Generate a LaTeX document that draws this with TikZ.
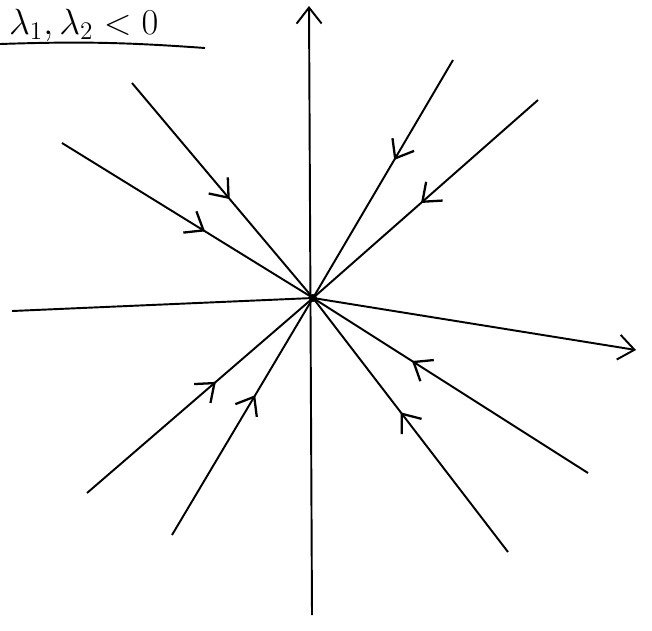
\documentclass[tikz,border=0pt]{standalone}
\usepackage{amsmath,amssymb}
\usepackage{xcolor}
\usetikzlibrary{arrows.meta, decorations.markings, positioning, calc}

\begin{document}
\begin{tikzpicture}[x=0.02cm, y=-0.02cm, line width=1.1pt,
  flowline/.style={postaction={decorate}, decoration={markings,
    mark=at position #1 with {\arrow{Straight Barb[length=3.2mm,width=5mm,line width=1.3pt]}}}}]
  \useasboundingbox (0,0) rectangle (652,630);

  % Origin
  \coordinate (O) at (313,298);
  \fill (O) circle (4);

  % Axes
  \coordinate (ybot) at (312,615);
  \coordinate (ytop) at (309,6);
  \coordinate (xleft) at (12,311);
  \coordinate (xright) at (636,350);
  \draw[-{Straight Barb[length=3.2mm,width=5mm]}] (ybot) -- (ytop);
  \draw[-{Straight Barb[length=3.2mm,width=5mm]}] (xleft) -- (O) -- (xright);

  % Trajectories
  \coordinate (p1) at (132,83);
  \coordinate (p2) at (62,143);
  \coordinate (p3) at (453,60);
  \coordinate (p4) at (538,100);
  \coordinate (p5) at (588,473);
  \coordinate (p6) at (508,552);
  \coordinate (p7) at (87,493);
  \coordinate (p8) at (172,535);
  \draw[flowline=0.54] (p1) -- (O);
  \draw[flowline=0.57] (p2) -- (O);
  \draw[flowline=0.42] (p3) -- (O);
  \draw[flowline=0.52] (p4) -- (O);
  \draw[flowline=0.64] (p5) -- (O);
  \draw[flowline=0.55] (p6) -- (O);
  \draw[flowline=0.57] (p7) -- (O);
  \draw[flowline=0.59] (p8) -- (O);

  % Label
  \node[font=\LARGE, scale=1.2, anchor=base west, inner sep=0pt] (lbl) at (8,34) {$\lambda_1,\lambda_2<0$};
  \draw (0,44) to[bend left=3] (205,48);
\end{tikzpicture}
\end{document}
